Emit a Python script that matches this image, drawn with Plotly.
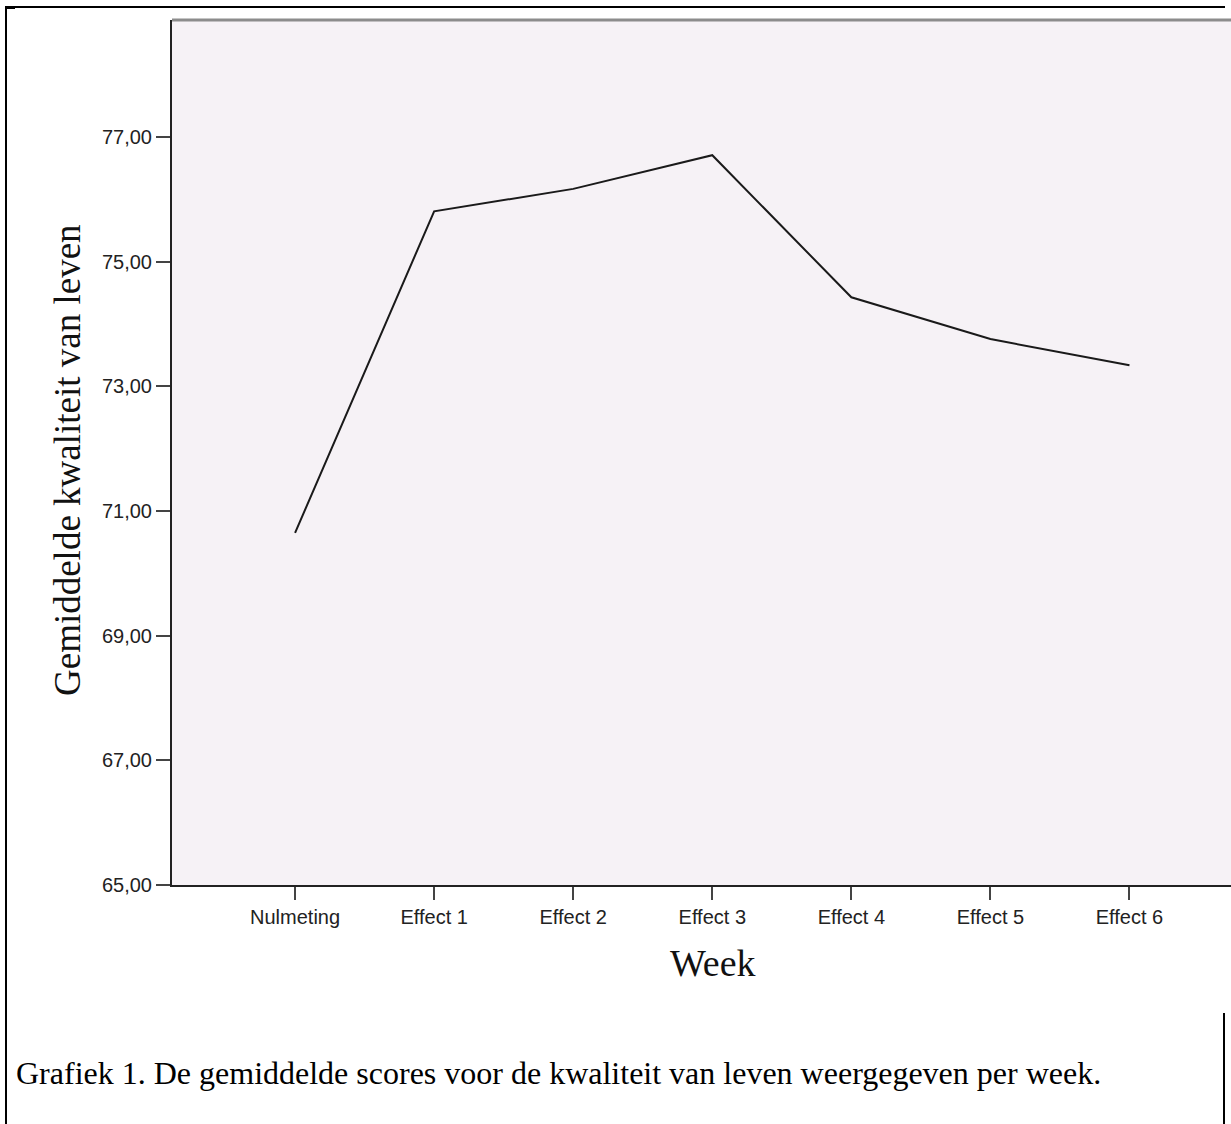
import plotly.graph_objects as go

weeks = ["Nulmeting", "Effect 1", "Effect 2", "Effect 3", "Effect 4", "Effect 5", "Effect 6"]
mean_qol = [70.65, 75.81, 76.17, 76.71, 74.43, 73.76, 73.34]
y_ticks = [65, 67, 69, 71, 73, 75, 77]

W, H = 1231, 1124
L, R, T, B = 172, 1231, 20, 885

def px(x):
    return (x - L) / (R - L)

def py(y):
    return (B - y) / (B - T)

fig = go.Figure()
fig.add_trace(go.Scatter(
    x=list(range(len(weeks))), y=mean_qol, mode="lines",
    line=dict(color="#1a1a1a", width=2), showlegend=False, hoverinfo="skip",
))

fig.update_layout(
    width=W, height=H, autosize=False,
    margin=dict(l=L, r=W - R, t=T, b=H - B, pad=0),
    paper_bgcolor="white", plot_bgcolor="#f6f2f6",
    separators=",.",
    font=dict(family="Liberation Sans, Arial", size=20, color="#222"),
    xaxis=dict(
        range=[-0.885, 6.73], tickmode="array",
        tickvals=list(range(len(weeks))), ticktext=weeks,
        showgrid=False, zeroline=False, showline=True, linecolor="#222", linewidth=2,
        ticks="outside", ticklen=13, tickwidth=2, tickcolor="#444",
        tickfont=dict(family="Liberation Sans, Arial", size=20, color="#222"),
    ),
    yaxis=dict(
        range=[65, 78.88], tickmode="array", tickvals=y_ticks,
        tickformat=".2f",
        showgrid=False, zeroline=False, showline=True, linecolor="#222", linewidth=2,
        ticks="outside", ticklen=14, tickwidth=2, tickcolor="#444",
        tickfont=dict(family="Liberation Sans, Arial", size=20, color="#222"),
    ),
)

# plot top border (gray)
fig.add_shape(type="line", xref="paper", yref="paper", x0=0, x1=1, y0=1, y1=1,
              line=dict(color="#8c8c8c", width=3))

# page frame lines
fig.add_shape(type="line", xref="paper", yref="paper", x0=px(6), x1=px(6), y0=py(6), y1=py(H + 5),
              line=dict(color="black", width=2))
fig.add_shape(type="line", xref="paper", yref="paper", x0=px(5), x1=px(1225), y0=py(7), y1=py(7),
              line=dict(color="black", width=2))
fig.add_shape(type="line", xref="paper", yref="paper", x0=px(5), x1=px(15), y0=py(7.5), y1=py(7.5),
              line=dict(color="black", width=3))
fig.add_shape(type="line", xref="paper", yref="paper", x0=px(1224), x1=px(1224), y0=py(1013), y1=py(H + 5),
              line=dict(color="black", width=2))

# axis titles
fig.add_annotation(text="Gemiddelde kwaliteit van leven", xref="paper", yref="paper",
                   x=px(67), y=py(460), textangle=-90, showarrow=False,
                   xanchor="center", yanchor="middle",
                   font=dict(family="Liberation Serif, Times New Roman", size=37, color="#111"))
fig.add_annotation(text="Week", xref="paper", yref="paper",
                   x=px(713), y=py(963), showarrow=False,
                   xanchor="center", yanchor="middle",
                   font=dict(family="Liberation Serif, Times New Roman", size=38, color="#111"))

# caption
fig.add_annotation(text="Grafiek 1. De gemiddelde scores voor de kwaliteit van leven weergegeven per week.",
                   xref="paper", yref="paper", x=px(14), y=py(1073), showarrow=False,
                   xanchor="left", yanchor="middle",
                   font=dict(family="Liberation Serif, Times New Roman", size=32, color="black"))

fig.write_html("out.html", config={"displayModeBar": False},
               post_script="document.body.style.margin='0';document.body.style.overflow='hidden';")
